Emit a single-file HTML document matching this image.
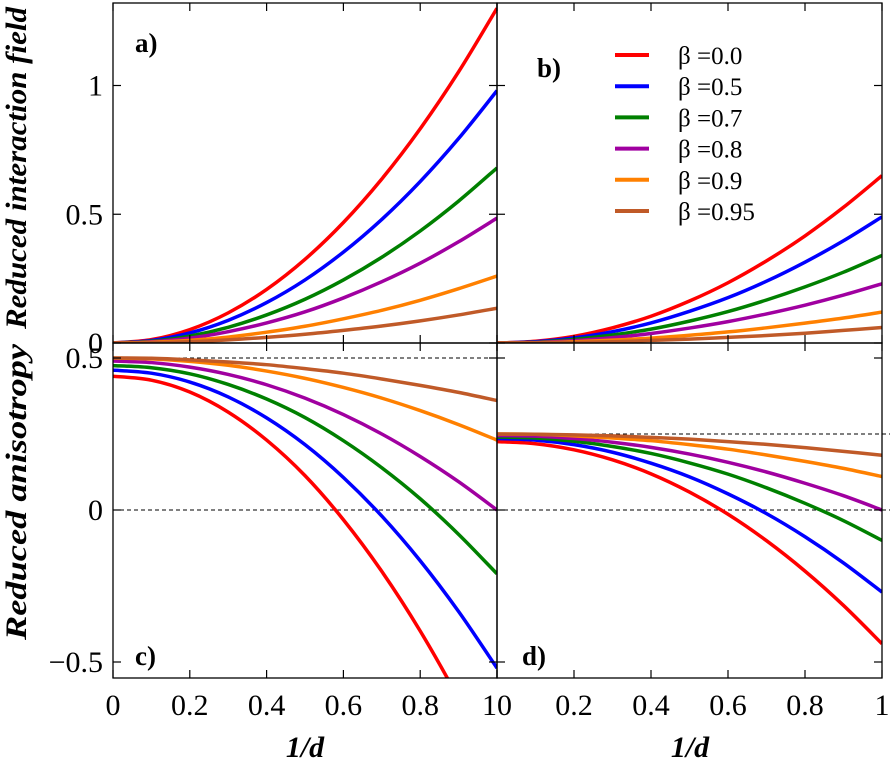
<!DOCTYPE html>
<html><head><meta charset="utf-8"><style>
html,body{margin:0;padding:0;background:#fff}
svg{display:block}
text{font-family:"Liberation Serif",serif;fill:#000}
</style></head><body>
<svg id="chart" width="892" height="764" viewBox="0 0 892 764" xmlns="http://www.w3.org/2000/svg">
<defs>
<clipPath id="clipA"><rect x="113" y="3" width="384" height="340"/></clipPath>
<clipPath id="clipB"><rect x="497" y="3" width="385" height="340"/></clipPath>
<clipPath id="clipC"><rect x="113" y="343" width="384" height="335"/></clipPath>
<clipPath id="clipD"><rect x="497" y="343" width="385" height="335"/></clipPath>
</defs>
<g id="layer"></g>
</svg>
<script>
const xs = [0,0.1,0.2,0.3,0.4,0.5,0.6,0.7,0.8,0.9,1.0];
const betaLabels = ["β =0.0","β =0.5","β =0.7","β =0.8","β =0.9","β =0.95"];
const colors = ["#ff0000","#0000ff","#008000","#a000a0","#ff8000","#c05a28"];
const xTickLabels = ["0","0.2","0.4","0.6","0.8","1"];
const xTickValues = [0,0.2,0.4,0.6,0.8,1];
const topTickValues = [0,0.5,1];
const topTickLabels = ["0","0.5","1"];
const botTickValues = [-0.5,0,0.5];
const botTickLabels = ["\u22120.5","0","0.5"];

const seriesA = [
[0,.013,.052,.117,.208,.325,.468,.637,.832,1.053,1.3],
[0,.010,.039,.088,.157,.245,.353,.480,.627,.794,.98],
[0,.007,.027,.061,.109,.17,.245,.333,.435,.551,.68],
[0,.005,.019,.044,.078,.121,.175,.238,.310,.393,.485],
[0,.003,.010,.023,.042,.065,.094,.127,.166,.211,.26],
[0,.001,.005,.012,.022,.034,.049,.066,.086,.109,.135]];
const seriesB = [
[0,.007,.026,.059,.104,.163,.234,.319,.416,.527,.65],
[0,.005,.020,.044,.078,.123,.176,.240,.314,.397,.49],
[0,.003,.014,.031,.054,.085,.122,.167,.218,.275,.34],
[0,.002,.009,.021,.037,.058,.083,.113,.147,.186,.23],
[0,.001,.005,.011,.019,.03,.043,.059,.077,.097,.12],
[0,.001,.002,.005,.010,.015,.022,.029,.038,.049,.06]];
const seriesC = [
[.44,.427,.388,.322,.230,.113,-.032,-.202,-.398,-.621,-.87],
[.46,.450,.421,.372,.303,.215,.107,-.020,-.167,-.334,-.52],
[.475,.468,.448,.413,.365,.304,.228,.139,.037,-.080,-.21],
[.49,.485,.470,.446,.412,.368,.314,.250,.176,.093,0],
[.50,.497,.489,.476,.457,.433,.403,.368,.327,.281,.23],
[.50,.499,.494,.487,.478,.465,.450,.431,.410,.387,.36]];
const seriesD = [
[.225,.218,.198,.165,.119,.059,-.014,-.101,-.201,-.314,-.44],
[.235,.230,.215,.190,.154,.109,.053,-.012,-.088,-.174,-.27],
[.24,.237,.226,.209,.186,.155,.118,.073,.022,-.035,-.10],
[.245,.243,.235,.223,.206,.184,.157,.125,.088,.047,0],
[.25,.249,.244,.237,.228,.215,.200,.181,.160,.137,.11],
[.25,.249,.247,.244,.239,.233,.225,.216,.205,.193,.18]];
const dashC = [0.5, 0];
const dashD = [0.25, 0];

const NS="http://www.w3.org/2000/svg";
const layer=document.getElementById('layer');
function mk(tag,attrs,parent){const e=document.createElementNS(NS,tag);for(const k in attrs)e.setAttribute(k,attrs[k]);(parent||layer).appendChild(e);return e;}

const panels=[
 {id:'a',x0:113,x1:497,y0:3,y1:343,vmin:0,vmax:(343-3)/257.5,data:seriesA,clip:'clipA',label:'a)',lx:135,ly:52,left:true,top:true},
 {id:'b',x0:497,x1:882,y0:3,y1:343,vmin:0,vmax:(343-3)/257.5,data:seriesB,clip:'clipB',label:'b)',lx:537,ly:77,left:false,top:true},
 {id:'c',x0:113,x1:497,y0:343,y1:678,vmin:-0.5-(678-662)/304,vmax:0.5+(358-343)/304,data:seriesC,clip:'clipC',label:'c)',lx:135,ly:665,left:true,top:false,dash:dashC},
 {id:'d',x0:497,x1:882,y0:343,y1:678,vmin:-0.5-(678-662)/304,vmax:0.5+(358-343)/304,data:seriesD,clip:'clipD',label:'d)',lx:522,ly:665,left:false,top:false,dash:dashD}
];

panels.forEach(p=>{
 const sx=v=>p.x0+(p.x1-p.x0)*v;
 const sy=v=>p.y1-(p.y1-p.y0)*(v-p.vmin)/(p.vmax-p.vmin);
 const g=mk('g',{});
 
 
 if(p.dash){p.dash.forEach(v=>{
   const l=mk('line',{x1:p.x0,x2:p.x1+8,y1:sy(v),y2:sy(v),stroke:'#000','stroke-width':1,'stroke-dasharray':'4,3'},g);
   
   
 });}
 p.data.forEach((ys,si)=>{
   const pts=xs.map((x,i)=>[sx(x),sy(ys[i])]);
   let d='M'+pts[0][0]+','+pts[0][1];
   for(let i=0;i<pts.length-1;i++){
     const p0=pts[Math.max(i-1,0)],p1=pts[i],p2=pts[i+1],p3=pts[Math.min(i+2,pts.length-1)];
     const c1=[p1[0]+(p2[0]-p0[0])/6,p1[1]+(p2[1]-p0[1])/6];
     const c2=[p2[0]-(p3[0]-p1[0])/6,p2[1]-(p3[1]-p1[1])/6];
     d+=' C'+c1+' '+c2+' '+p2;
   }
   const path=mk('path',{d:d,fill:'none',stroke:colors[si],'stroke-width':3.5,'clip-path':'url(#'+p.clip+')'},g);
   
   
 });
 const fr=mk('rect',{x:p.x0,y:p.y0,width:p.x1-p.x0,height:p.y1-p.y0,fill:'none',stroke:'#000','stroke-width':1.3},g);
 
 
 xTickValues.forEach(v=>{
   mk('line',{x1:sx(v),x2:sx(v),y1:p.y1,y2:p.y1-8,stroke:'#000','stroke-width':1.2},g);
   mk('line',{x1:sx(v),x2:sx(v),y1:p.y0,y2:p.y0+8,stroke:'#000','stroke-width':1.2},g);
 });
 const yv=p.top?topTickValues:botTickValues;
 yv.forEach(v=>{
   mk('line',{x1:p.x0,x2:p.x0+8,y1:sy(v),y2:sy(v),stroke:'#000','stroke-width':1.2},g);
   mk('line',{x1:p.x1,x2:p.x1-8,y1:sy(v),y2:sy(v),stroke:'#000','stroke-width':1.2},g);
 });
 if(p.left){
   const yl=p.top?topTickLabels:botTickLabels;
   yv.forEach((v,i)=>{
     const t=mk('text',{x:103,y:sy(v)+10,'text-anchor':'end','font-size':30},g);
     t.textContent=yl[i];
     
     
   });
 }
 if(!p.top){
   xTickValues.forEach((v,i)=>{
     let anchor='middle';
     if(p.id==='c'&&v===1) anchor='end';
     if(p.id==='d'&&v===0) anchor='start';
     const t=mk('text',{x:sx(v),y:715,'text-anchor':anchor,'font-size':30},g);
     t.textContent=xTickLabels[i];
     
     
   });
 }
 const pl=mk('text',{x:p.lx,y:p.ly,'font-size':27,'font-weight':'bold'},g);
 pl.textContent=p.label;
 
 
});

// legend
const lg=mk('g',{});


betaLabels.forEach((lab,i)=>{
  const y=55+i*31.2;
  const l=mk('line',{x1:615,x2:649,y1:y,y2:y,stroke:colors[i],'stroke-width':4},lg);
  
  
  const t=mk('text',{x:678,y:y+9,'font-size':25},lg);
  t.textContent=lab;
  
  
});

// axis titles
[['Reduced interaction field',168,322],['Reduced anisotropy',492,296]].forEach(([s,cy,len])=>{
  const t=mk('text',{x:0,y:0,'font-size':30,'font-style':'italic','font-weight':'bold','text-anchor':'middle',textLength:len,lengthAdjust:'spacingAndGlyphs',transform:'translate(26,'+cy+') rotate(-90)'});
  t.textContent=s;
  
  
});
[305,690].forEach(cx=>{
  const t=mk('text',{x:cx,y:757,'font-size':30,'font-style':'italic','font-weight':'bold','text-anchor':'middle'});
  t.textContent='1/d';
  
  
});
</script>
</body></html>
